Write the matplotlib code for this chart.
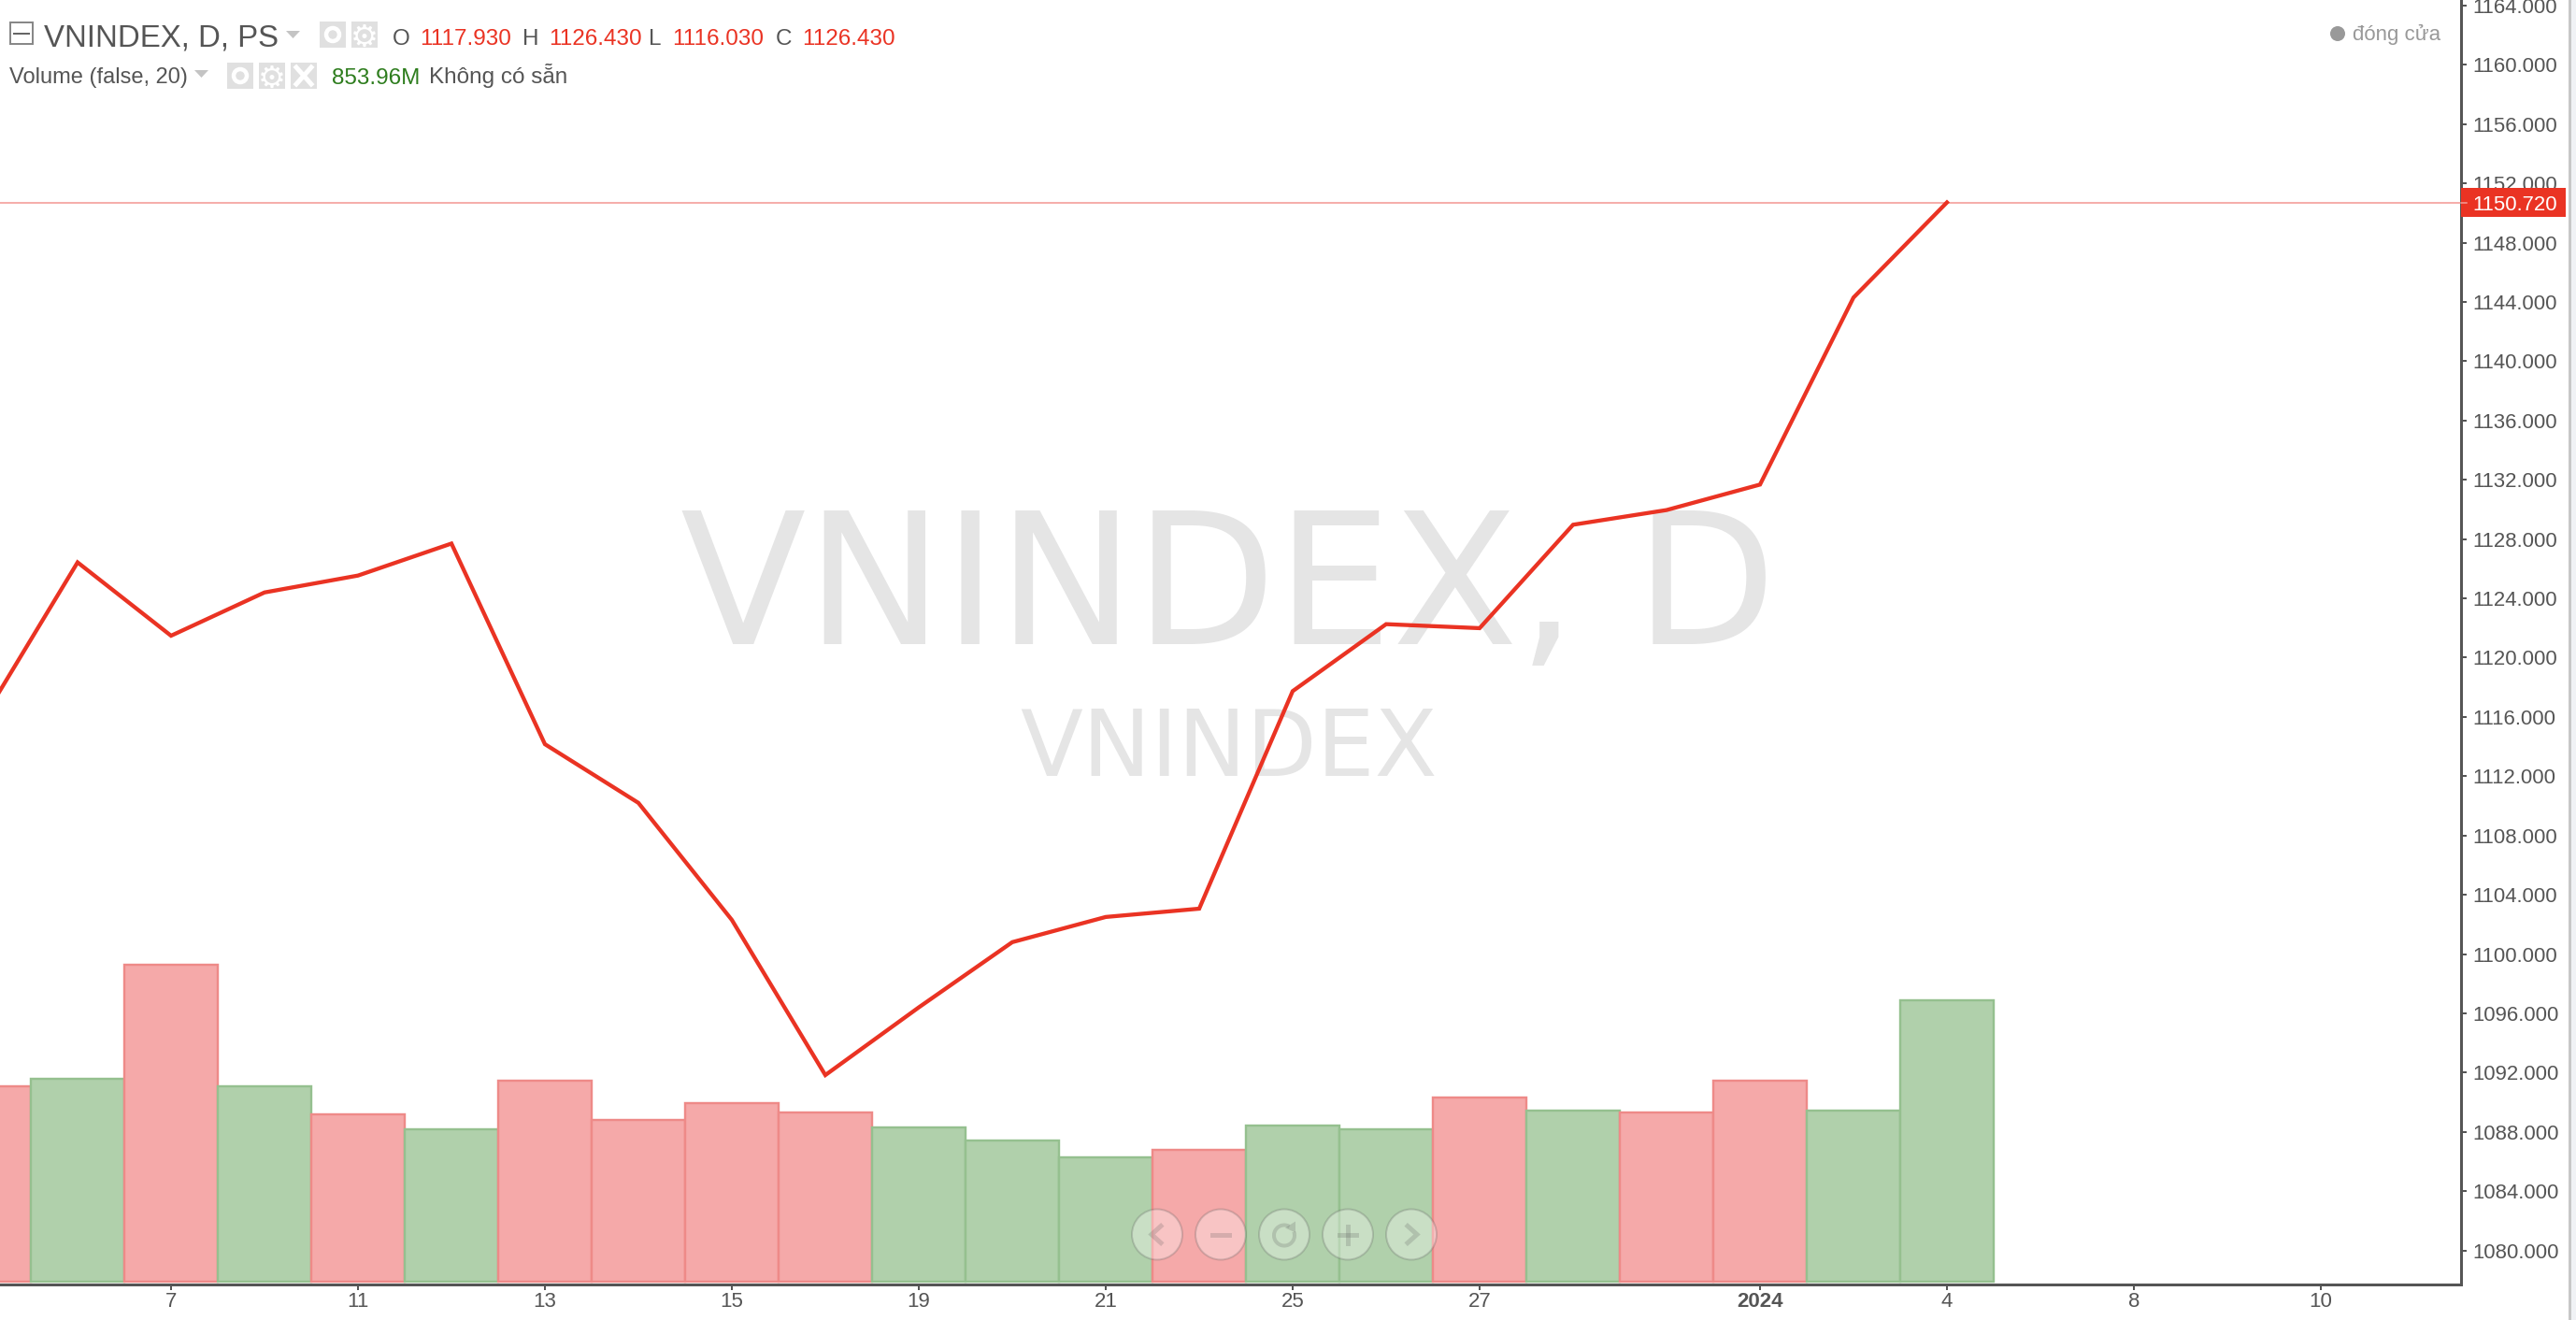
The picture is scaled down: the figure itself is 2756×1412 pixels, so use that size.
import numpy as np
import matplotlib
matplotlib.use("Agg")
import matplotlib.pyplot as plt
from matplotlib.patches import Rectangle, Circle, Arc, Polygon

plt.rcParams["font.family"] = ["Liberation Sans", "DejaVu Sans"]

# one entry per session, Dec 5 2023 .. Jan 4 2024
closes = [1116.0, 1126.43, 1121.48, 1124.4, 1125.54, 1127.7, 1114.16, 1110.2,
          1102.3, 1091.83, 1096.4, 1100.8, 1102.5, 1103.06, 1117.74, 1122.26,
          1121.99, 1128.97, 1129.96, 1131.68, 1144.3, 1150.72]
volumes = [822, 854, 1334, 822, 704, 641, 846, 681,
           752, 712, 649, 594, 523, 555, 657, 641,
           775, 720, 712, 846, 720, 1184]
up_volume = [0, 1, 0, 1, 0, 1, 0, 0,
             0, 0, 1, 1, 1, 0, 1, 1,
             0, 1, 0, 0, 1, 1]

tick_pos = [2, 4, 6, 8, 10, 12, 14, 16, 19, 21, 23, 25]
tick_labels = ["7", "11", "13", "15", "19", "21", "25", "27", "2024", "4", "8", "10"]
price_ticks = list(range(1080, 1168, 4))

TEXT = "#555555"
RED = "#ea3323"
W, H = 2756, 1412
PX = 72 / 100

fig = plt.figure(figsize=(W / 100, H / 100), dpi=100, facecolor="white")

# page layer for the watermark
bg = fig.add_axes([0, 0, 1, 1], zorder=0)
bg.set_xlim(0, W)
bg.set_ylim(H, 0)
bg.axis("off")
bg.add_patch(Rectangle((2748, 0), 3, H, fc="#c8c8c8", ec="none"))
bg.add_patch(Rectangle((2751, 0), 5, H, fc="#f0f2f5", ec="none"))
bg.text(1314, 689, "VNINDEX, D", fontsize=141.5, family="DejaVu Sans", color="#e5e5e5",
        ha="center", va="baseline")
bg.text(1315, 830, "VNINDEX", fontsize=70.5, family="DejaVu Sans", color="#e5e5e5",
        ha="center", va="baseline")

ax_vol = fig.add_axes([0, 38 / H, 2633 / W, 1374 / H], zorder=1)
ax_vol.patch.set_visible(False)
x = np.arange(len(closes))

bar_fill = ["#b0d0ab" if u else "#f5a9a9" for u in up_volume]
bar_edge = ["#95c08f" if u else "#ee8a88" for u in up_volume]
ax_vol.bar(x, volumes, width=1.0, color=bar_fill, edgecolor=bar_edge, linewidth=2.4 * PX)
ax_vol.set_xlim(0.17, 26.5)
ax_vol.set_ylim(-13, 5394)
ax_vol.set_yticks([])
ax_vol.set_xticks(tick_pos)
ax_vol.set_xticklabels(tick_labels, fontsize=16, color=TEXT)
ax_vol.get_xticklabels()[8].set_fontweight("bold")
ax_vol.tick_params(axis="x", length=6 * PX, width=2 * PX, color=TEXT, pad=2.5 * PX)

ax = ax_vol.twinx()
ax.plot(x, closes, color=RED, linewidth=4.3 * PX, solid_joinstyle="miter", zorder=3)
ax.set_ylim(1077.7, 1164.38)
ax.set_yticks(price_ticks)
ax.set_yticklabels(["%.3f" % p for p in price_ticks], fontsize=15.9, color=TEXT)
ax.tick_params(axis="y", length=6 * PX, width=2 * PX, color=TEXT, pad=6 * PX)

for a in (ax, ax_vol):
    a.spines["top"].set_visible(False)
    a.spines["left"].set_visible(False)
    a.spines["right"].set_color(TEXT)
    a.spines["bottom"].set_color(TEXT)
    a.spines["right"].set_linewidth(3 * PX)
    a.spines["bottom"].set_linewidth(3 * PX)

# last price line and its flag on the axis
last = closes[-1]
ax.axhline(last, color="#f29490", linewidth=1.5 * PX, zorder=2)
ytr = ax.get_yaxis_transform()
ax.add_patch(Rectangle((1.0, last - 1.0), 112 / 2633, 2.0, transform=ytr, clip_on=False,
                       fc=RED, ec="none", zorder=5))
ax.plot([1.0, 1.0023], [last, last], transform=ytr, clip_on=False, color="#f4a09c",
        linewidth=1.5 * PX, zorder=6)
ax.text(1 + 12 / 2633, last, "%.3f" % last, transform=ytr, fontsize=15.9, color="white",
        va="center_baseline", ha="left", zorder=6, clip_on=False)

# top layer in pixel coordinates: legend rows and the zoom buttons
ui = fig.add_axes([0, 0, 1, 1], zorder=3)
ui.set_xlim(0, W)
ui.set_ylim(H, 0)
ui.axis("off")


def label(px, py, s, size, color=TEXT):
    # py is the text baseline
    ui.text(px, py, s, fontsize=size, color=color, ha="left", va="baseline")


def icon_box(px, py):
    ui.add_patch(Rectangle((px, py), 28, 28, fc="#e0e0e0", ec="none"))


def eye_icon(px, py):
    icon_box(px, py)
    ui.add_patch(Circle((px + 14, py + 14), 7, fc="none", ec="white", lw=4.5 * PX))


def gear_icon(px, py):
    icon_box(px, py)
    ui.text(px + 14, py + 14, "\u2699", fontsize=24, family="DejaVu Sans", color="white",
            ha="center", va="center_baseline", fontweight="bold")


def close_icon(px, py):
    icon_box(px, py)
    ui.plot([px + 6, px + 22], [py + 5, py + 23], color="white", lw=5 * PX)
    ui.plot([px + 6, px + 22], [py + 23, py + 5], color="white", lw=5 * PX)


def caret(px, py):
    ui.add_patch(Polygon([(px, py), (px + 15, py), (px + 7.5, py + 8)], fc="#c4c4c4", ec="none"))


# first legend row
ui.add_patch(Rectangle((11, 24), 24, 23, fc="none", ec="#888888", lw=2 * PX))
ui.plot([15, 31], [35.5, 35.5], color="#666666", lw=2 * PX)
label(47, 49, "VNINDEX, D, PS", 23.8)
caret(306, 33)
eye_icon(342, 23)
gear_icon(376, 23)
label(420, 48, "O", 17.5)
label(449, 48, "1117.930", 17.5, RED)
label(559, 48, "H", 17.5)
label(587, 48, "1126.430", 17.5, RED)
label(694, 48, "L", 17.5)
label(719, 48, "1116.030", 17.5, RED)
label(830, 48, "C", 17.5)
label(858, 48, "1126.430", 17.5, RED)

# second legend row
label(10, 89, "Volume (false, 20)", 17)
caret(208, 75)
eye_icon(243, 67)
gear_icon(277, 67)
close_icon(311, 67)
label(355, 89.5, "853.96M", 17.5, "#2e7d1e")
label(459, 89.5, "Kh\u00f4ng c\u00f3 s\u1eb5n", 17.5)

ui.add_patch(Circle((2501, 36), 8, fc="#999999", ec="none"))
label(2517, 43, "\u0111\u00f3ng c\u1eeda", 16, "#999999")

# zoom buttons
GLYPH = (0.35, 0.35, 0.35, 0.22)
centers = [1238, 1306, 1374, 1442, 1510]
cy = 1320.5
for c in centers:
    ui.add_patch(Circle((c, cy), 27, fc=(1, 1, 1, 0.32), ec=(0.35, 0.35, 0.35, 0.25), lw=2 * PX))
ui.plot([centers[0] + 4, centers[0] - 6, centers[0] + 4], [cy - 9, cy, cy + 9], color=GLYPH,
        lw=5 * PX, solid_joinstyle="miter")
ui.plot([centers[1] - 9, centers[1] + 9], [cy, cy], color=GLYPH, lw=5 * PX)
ui.add_patch(Arc((centers[2], cy + 1), 22, 22, angle=0, theta1=-20, theta2=300, color=GLYPH, lw=4 * PX))
ui.add_patch(Polygon([(centers[2] + 1, cy - 7), (centers[2] + 12, cy - 14), (centers[2] + 12, cy - 2)],
                     fc=GLYPH, ec="none"))
ui.plot([centers[3] - 9, centers[3] + 9], [cy, cy], color=GLYPH, lw=5 * PX)
ui.plot([centers[3], centers[3]], [cy - 9, cy + 9], color=GLYPH, lw=5 * PX)
ui.plot([centers[4] - 4, centers[4] + 6, centers[4] - 4], [cy - 9, cy, cy + 9], color=GLYPH,
        lw=5 * PX, solid_joinstyle="miter")

fig.savefig("out.png", dpi=100)
